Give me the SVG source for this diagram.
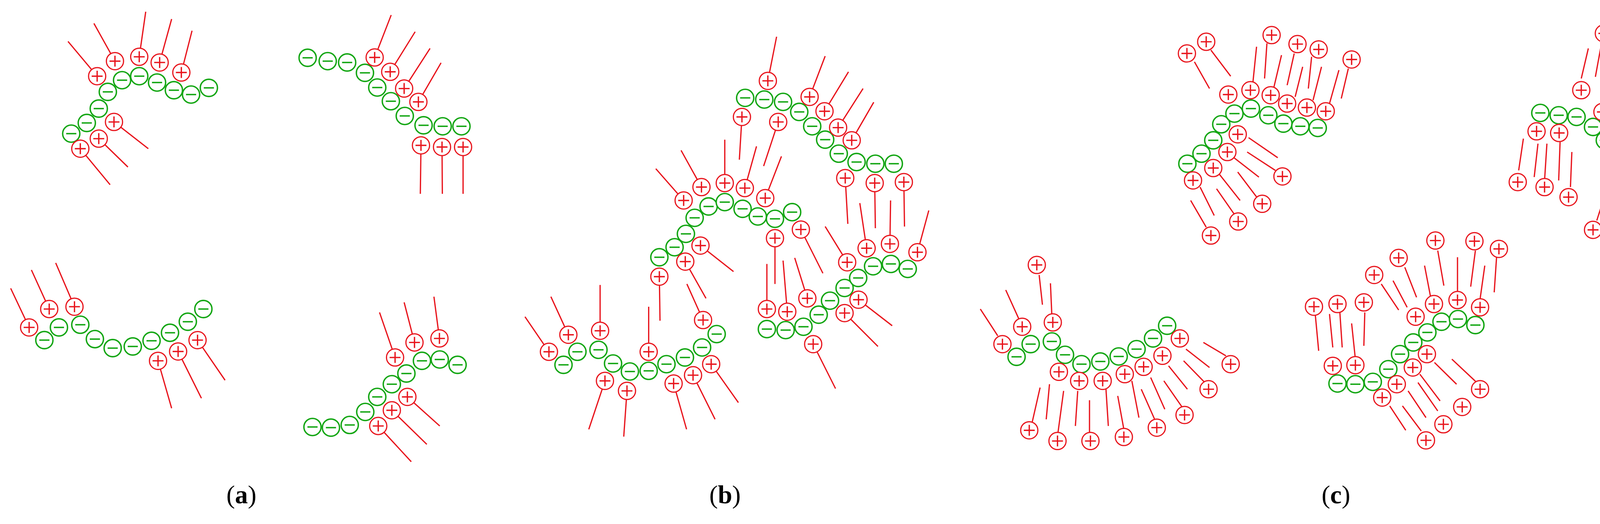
<svg xmlns="http://www.w3.org/2000/svg" xmlns:xlink="http://www.w3.org/1999/xlink" width="4389" height="1341" viewBox="0 0 4389 1341">
<style>
.t{fill:none;stroke:#e8141c;stroke-width:3.2;vector-effect:non-scaling-stroke;stroke-linecap:butt}
.pc{fill:#fff;stroke:#e8141c;stroke-width:3}
.mc{fill:#fff;stroke:#13a613;stroke-width:3.6}
.ps{stroke:#e8141c;stroke-width:3.4}
.ms{stroke:#13a613;stroke-width:3.6}
.lab{font-family:"Liberation Serif",serif;font-size:66px;text-anchor:middle}
</style>
<defs>
<g id="P0"><circle class="pc" r="22"/><path class="ps" d="M-14 0H14M0-14V14"/></g>
<g id="M0"><circle class="mc" r="22"/><path class="ms" d="M-13 0H13"/></g>
<g id="pA"><use href="#P0" transform="scale(1.206,1.1696)"/></g>
<g id="mA"><use href="#M0" transform="scale(1.206,1.1696)"/></g>
<g id="pC"><use href="#P0" transform="scale(0.830,1.1696)"/></g>
<g id="mC"><use href="#M0" transform="scale(0.830,1.1696)"/></g>
</defs>

<g id="panel-a" transform="scale(0.829,0.855)">
<path class="t" d="M300 228L210 124M355 183L290 70M430 170L450 35M493 187L530 57M560 217L593 92M352 365L458 445M305 415L395 500M248 445L340 553
M1157 172L1208 45M1205 215L1282 95M1248 265L1328 145M1292 305L1362 188M1300 435L1298 580M1365 440L1366 580M1430 440L1430 580
M90 980L33 863M152 925L97 808M230 918L172 787M488 1080L530 1222M550 1052L622 1192M610 1018L695 1138
M1220 1070L1172 935M1280 1025L1248 905M1357 1013L1340 888M1258 1188L1358 1275M1210 1228L1318 1330M1168 1275L1270 1382"/>
<use href="#mA" x="220" y="400"/><use href="#mA" x="268" y="368"/><use href="#mA" x="305" y="325"/><use href="#mA" x="333" y="275"/><use href="#mA" x="377" y="240"/><use href="#mA" x="430" y="228"/><use href="#mA" x="485" y="247"/><use href="#mA" x="537" y="270"/><use href="#mA" x="590" y="283"/><use href="#mA" x="645" y="263"/>
<use href="#pA" x="300" y="228"/><use href="#pA" x="355" y="183"/><use href="#pA" x="430" y="170"/><use href="#pA" x="493" y="187"/><use href="#pA" x="560" y="217"/><use href="#pA" x="352" y="365"/><use href="#pA" x="305" y="415"/><use href="#pA" x="248" y="445"/>
<use href="#mA" x="950" y="173"/><use href="#mA" x="1012" y="183"/><use href="#mA" x="1072" y="187"/><use href="#mA" x="1127" y="218"/><use href="#mA" x="1165" y="262"/><use href="#mA" x="1207" y="303"/><use href="#mA" x="1250" y="347"/><use href="#mA" x="1308" y="375"/><use href="#mA" x="1367" y="378"/><use href="#mA" x="1425" y="378"/>
<use href="#pA" x="1157" y="172"/><use href="#pA" x="1205" y="215"/><use href="#pA" x="1248" y="265"/><use href="#pA" x="1292" y="305"/><use href="#pA" x="1300" y="435"/><use href="#pA" x="1365" y="440"/><use href="#pA" x="1430" y="440"/>
<use href="#mA" x="137" y="1018"/><use href="#mA" x="182" y="980"/><use href="#mA" x="248" y="972"/><use href="#mA" x="293" y="1015"/><use href="#mA" x="348" y="1042"/><use href="#mA" x="410" y="1037"/><use href="#mA" x="468" y="1020"/><use href="#mA" x="525" y="996"/><use href="#mA" x="580" y="963"/><use href="#mA" x="628" y="925"/>
<use href="#pA" x="90" y="980"/><use href="#pA" x="152" y="925"/><use href="#pA" x="230" y="918"/><use href="#pA" x="488" y="1080"/><use href="#pA" x="550" y="1052"/><use href="#pA" x="610" y="1018"/>
<use href="#mA" x="965" y="1278"/><use href="#mA" x="1022" y="1280"/><use href="#mA" x="1080" y="1272"/><use href="#mA" x="1128" y="1233"/><use href="#mA" x="1165" y="1188"/><use href="#mA" x="1210" y="1150"/><use href="#mA" x="1255" y="1118"/><use href="#mA" x="1303" y="1080"/><use href="#mA" x="1358" y="1076"/><use href="#mA" x="1413" y="1092"/>
<use href="#pA" x="1220" y="1070"/><use href="#pA" x="1280" y="1025"/><use href="#pA" x="1357" y="1013"/><use href="#pA" x="1258" y="1188"/><use href="#pA" x="1210" y="1228"/><use href="#pA" x="1168" y="1275"/>
</g>

<g id="panel-b" transform="translate(1300,0) scale(0.829,0.855)">
<path class="t" d="M127 1053L53 948M187 1002L133 888M285 990L285 853M435 1053L435 918M300 1140L250 1285M368 1170L358 1307M512 1148L552 1285M572 1123L640 1255M628 1090L712 1205
M468 828L470 960M548 783L612 893M595 735L697 813M543 600L457 505M598 560L535 450M670 548L670 418M732 563L768 438M795 593L845 468M825 713L825 850M905 687L973 818M603 958L553 850
M803 242L830 110M723 350L715 478M835 365L790 497M932 290L980 168M978 333L1052 215M1020 382L1097 265M1062 420L1130 306M1042 533L1050 670M1133 548L1135 683M1223 545L1225 678
M800 925L800 790M863 933L850 780M925 893L886 772M1048 785L980 678M1108 743L1087 608M1180 730L1182 600M1265 755L1300 630M1083 897L1187 975M1040 937L1143 1037M943 1030L1012 1163"/>
<use href="#mA" x="172" y="1092"/><use href="#mA" x="215" y="1053"/><use href="#mA" x="280" y="1047"/><use href="#mA" x="325" y="1088"/><use href="#mA" x="377" y="1112"/><use href="#mA" x="435" y="1110"/><use href="#mA" x="490" y="1090"/><use href="#mA" x="547" y="1070"/><use href="#mA" x="600" y="1040"/><use href="#mA" x="645" y="1000"/>
<use href="#pA" x="127" y="1053"/><use href="#pA" x="187" y="1002"/><use href="#pA" x="285" y="990"/><use href="#pA" x="435" y="1053"/><use href="#pA" x="300" y="1140"/><use href="#pA" x="368" y="1170"/><use href="#pA" x="512" y="1148"/><use href="#pA" x="572" y="1123"/><use href="#pA" x="628" y="1090"/>
<use href="#mA" x="468" y="770"/><use href="#mA" x="515" y="740"/><use href="#mA" x="550" y="700"/><use href="#mA" x="577" y="652"/><use href="#mA" x="620" y="618"/><use href="#mA" x="670" y="605"/><use href="#mA" x="725" y="625"/><use href="#mA" x="772" y="648"/><use href="#mA" x="825" y="655"/><use href="#mA" x="878" y="635"/>
<use href="#pA" x="468" y="828"/><use href="#pA" x="548" y="783"/><use href="#pA" x="595" y="735"/><use href="#pA" x="543" y="600"/><use href="#pA" x="598" y="560"/><use href="#pA" x="670" y="548"/><use href="#pA" x="732" y="563"/><use href="#pA" x="795" y="593"/><use href="#pA" x="825" y="713"/><use href="#pA" x="905" y="687"/><use href="#pA" x="603" y="958"/>
<use href="#mA" x="733" y="293"/><use href="#mA" x="792" y="298"/><use href="#mA" x="850" y="305"/><use href="#mA" x="900" y="335"/><use href="#mA" x="940" y="378"/><use href="#mA" x="980" y="418"/><use href="#mA" x="1022" y="460"/><use href="#mA" x="1077" y="485"/><use href="#mA" x="1135" y="490"/><use href="#mA" x="1192" y="490"/>
<use href="#pA" x="803" y="242"/><use href="#pA" x="723" y="350"/><use href="#pA" x="835" y="365"/><use href="#pA" x="932" y="290"/><use href="#pA" x="978" y="333"/><use href="#pA" x="1020" y="382"/><use href="#pA" x="1062" y="420"/><use href="#pA" x="1042" y="533"/><use href="#pA" x="1133" y="548"/><use href="#pA" x="1223" y="545"/>
<use href="#mA" x="800" y="985"/><use href="#mA" x="858" y="988"/><use href="#mA" x="913" y="978"/><use href="#mA" x="960" y="942"/><use href="#mA" x="995" y="900"/><use href="#mA" x="1040" y="862"/><use href="#mA" x="1082" y="832"/><use href="#mA" x="1128" y="797"/><use href="#mA" x="1183" y="790"/><use href="#mA" x="1235" y="805"/>
<use href="#pA" x="800" y="925"/><use href="#pA" x="863" y="933"/><use href="#pA" x="925" y="893"/><use href="#pA" x="1048" y="785"/><use href="#pA" x="1108" y="743"/><use href="#pA" x="1180" y="730"/><use href="#pA" x="1265" y="755"/><use href="#pA" x="1083" y="897"/><use href="#pA" x="1040" y="937"/><use href="#pA" x="943" y="1030"/>
</g>

<g id="panel-c" transform="translate(2500,0) scale(1.2047,0.855)">
<path class="t" d="M463 185L495 265M498 150L540 228M595 140L587 250M617 130L612 235M648 165L632 260M675 160L660 255M693 200L677 290M712 170L705 265M733 200L715 300M770 210L750 310M790 205L775 295M578 412L640 472M545 470L600 530M575 455L635 510M515 520L560 600M555 515L598 595M475 560L505 645M510 565L547 640M455 600L488 680
M1300 145L1285 235M1328 130L1315 230M1357 170L1340 300M1380 220L1362 265M1420 230L1400 300M1447 265L1430 370M1475 310L1470 420M1515 330L1508 420M1162 415L1152 510M1193 430L1185 530M1212 430L1207 540M1240 425L1237 540M1265 455L1262 560M1335 585L1318 660M1363 570L1345 665M1375 580L1358 685M1410 595L1395 700M1425 600L1418 690
M8 925L45 1005M62 868L90 955M133 823L140 912M157 848L160 945M482 1025L530 1065M445 1045L495 1100M440 1080L485 1145M408 1095L448 1165M398 1140L440 1225M370 1130L400 1225M350 1165L380 1260M330 1140L345 1250M300 1185L313 1285M275 1165L280 1275M240 1198L240 1300M215 1170L210 1275M185 1170L173 1295M155 1150L148 1255M135 1160L118 1265
M720 945L727 1050M750 940L757 1040M772 935L777 1040M797 968L805 1075M825 935L823 1035M860 850L897 928M885 840L915 920M910 800L935 890M952 795L965 890M980 750L993 855M1022 770L1022 880M1060 750L1050 858M1080 795L1070 895M1105 770L1100 875M1010 1075L1063 1145M973 1085L1020 1150M942 1120L985 1200M938 1145L980 1230M917 1170L955 1250M905 1215L945 1290M878 1215L912 1288"/>
<use href="#mC" x="448" y="490"/><use href="#mC" x="478" y="460"/><use href="#mC" x="503" y="420"/><use href="#mC" x="520" y="372"/><use href="#mC" x="548" y="340"/><use href="#mC" x="583" y="325"/><use href="#mC" x="620" y="345"/><use href="#mC" x="652" y="370"/><use href="#mC" x="688" y="378"/><use href="#mC" x="725" y="383"/>
<use href="#pC" x="447" y="160"/><use href="#pC" x="488" y="125"/><use href="#pC" x="627" y="105"/><use href="#pC" x="682" y="132"/><use href="#pC" x="727" y="148"/><use href="#pC" x="797" y="178"/><use href="#pC" x="535" y="283"/><use href="#pC" x="582" y="270"/><use href="#pC" x="625" y="285"/><use href="#pC" x="660" y="310"/><use href="#pC" x="702" y="322"/><use href="#pC" x="742" y="333"/><use href="#pC" x="555" y="402"/><use href="#pC" x="533" y="455"/><use href="#pC" x="503" y="503"/><use href="#pC" x="460" y="540"/><use href="#pC" x="650" y="528"/><use href="#pC" x="607" y="610"/><use href="#pC" x="556" y="663"/><use href="#pC" x="498" y="705"/>
<use href="#mC" x="1198" y="338"/><use href="#mC" x="1237" y="345"/><use href="#mC" x="1275" y="350"/><use href="#mC" x="1310" y="380"/><use href="#mC" x="1335" y="420"/><use href="#mC" x="1362" y="462"/><use href="#mC" x="1392" y="502"/><use href="#mC" x="1430" y="525"/><use href="#mC" x="1468" y="527"/><use href="#mC" x="1505" y="530"/>
<use href="#pC" x="1333" y="100"/><use href="#pC" x="1383" y="145"/><use href="#pC" x="1425" y="203"/><use href="#pC" x="1462" y="235"/><use href="#pC" x="1503" y="277"/><use href="#pC" x="1285" y="270"/><use href="#pC" x="1330" y="335"/><use href="#pC" x="1362" y="378"/><use href="#pC" x="1390" y="425"/><use href="#pC" x="1190" y="393"/><use href="#pC" x="1238" y="398"/><use href="#pC" x="1468" y="448"/><use href="#pC" x="1510" y="452"/><use href="#pC" x="1150" y="545"/><use href="#pC" x="1207" y="560"/><use href="#pC" x="1258" y="590"/><use href="#pC" x="1367" y="545"/><use href="#pC" x="1410" y="570"/><use href="#pC" x="1310" y="688"/><use href="#pC" x="1355" y="695"/><use href="#pC" x="1413" y="718"/>
<use href="#mC" x="85" y="1068"/><use href="#mC" x="115" y="1030"/><use href="#mC" x="160" y="1022"/><use href="#mC" x="188" y="1062"/><use href="#mC" x="223" y="1090"/><use href="#mC" x="263" y="1082"/><use href="#mC" x="302" y="1067"/><use href="#mC" x="340" y="1045"/><use href="#mC" x="375" y="1013"/><use href="#mC" x="405" y="975"/>
<use href="#pC" x="55" y="1030"/><use href="#pC" x="97" y="978"/><use href="#pC" x="162" y="965"/><use href="#pC" x="128" y="793"/><use href="#pC" x="432" y="1013"/><use href="#pC" x="540" y="1090"/><use href="#pC" x="493" y="1165"/><use href="#pC" x="442" y="1242"/><use href="#pC" x="383" y="1280"/><use href="#pC" x="395" y="1065"/><use href="#pC" x="355" y="1098"/><use href="#pC" x="315" y="1120"/><use href="#pC" x="268" y="1140"/><use href="#pC" x="218" y="1140"/><use href="#pC" x="175" y="1113"/><use href="#pC" x="112" y="1288"/><use href="#pC" x="172" y="1320"/><use href="#pC" x="242" y="1320"/><use href="#pC" x="313" y="1308"/>
<use href="#mC" x="767" y="1148"/><use href="#mC" x="805" y="1150"/><use href="#mC" x="842" y="1143"/><use href="#mC" x="875" y="1105"/><use href="#mC" x="900" y="1060"/><use href="#mC" x="928" y="1025"/><use href="#mC" x="958" y="995"/><use href="#mC" x="988" y="963"/><use href="#mC" x="1023" y="955"/><use href="#mC" x="1060" y="973"/>
<use href="#pC" x="717" y="918"/><use href="#pC" x="767" y="910"/><use href="#pC" x="823" y="905"/><use href="#pC" x="845" y="823"/><use href="#pC" x="897" y="772"/><use href="#pC" x="975" y="720"/><use href="#pC" x="1058" y="722"/><use href="#pC" x="1110" y="745"/><use href="#pC" x="933" y="948"/><use href="#pC" x="972" y="910"/><use href="#pC" x="1022" y="898"/><use href="#pC" x="1070" y="920"/><use href="#pC" x="757" y="1095"/><use href="#pC" x="805" y="1093"/><use href="#pC" x="957" y="1060"/><use href="#pC" x="927" y="1100"/><use href="#pC" x="893" y="1150"/><use href="#pC" x="862" y="1190"/><use href="#pC" x="1070" y="1165"/><use href="#pC" x="1032" y="1218"/><use href="#pC" x="992" y="1270"/><use href="#pC" x="955" y="1318"/>
</g>

<text class="lab" x="618" y="1288">(<tspan font-weight="bold">a</tspan>)</text>
<text class="lab" x="1856" y="1288">(<tspan font-weight="bold">b</tspan>)</text>
<text class="lab" x="3420" y="1288">(<tspan font-weight="bold">c</tspan>)</text>
</svg>
